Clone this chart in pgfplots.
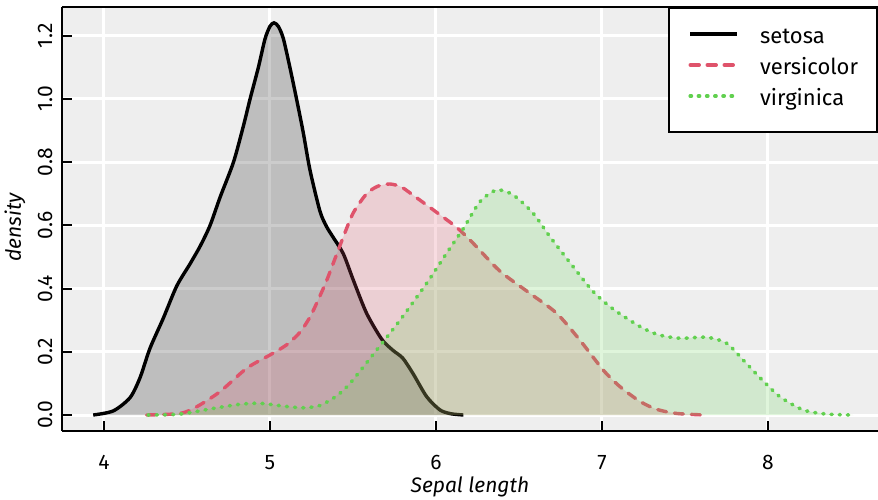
\documentclass[border=0pt]{standalone}
\usepackage{fontspec}
\setmainfont{Fira Sans}
\usepackage{pgfplots}
\pgfplotsset{compat=1.18}
\definecolor{panel}{HTML}{EEEEEE}
\definecolor{vers}{HTML}{DF536B}
\definecolor{virg}{HTML}{61D04F}
\pgfplotstableread{
x y
3.935 0
4.056 0.013
4.157 0.055
4.217 0.118
4.277 0.211
4.357 0.306
4.438 0.408
4.518 0.478
4.580 0.535
4.639 0.600
4.700 0.690
4.780 0.800
4.840 0.915
4.880 1.000
4.930 1.100
4.970 1.190
5.000 1.230
5.024 1.241
5.050 1.230
5.080 1.192
5.120 1.100
5.160 1.000
5.200 0.895
5.241 0.775
5.301 0.645
5.341 0.596
5.381 0.562
5.442 0.510
5.502 0.427
5.582 0.322
5.673 0.240
5.740 0.205
5.800 0.180
5.863 0.130
5.944 0.058
6.024 0.016
6.090 0.004
6.165 0
}\setosa
\pgfplotstableread{
x y
4.257 0
4.458 0.005
4.558 0.026
4.699 0.074
4.860 0.148
5.000 0.190
5.100 0.222
5.181 0.262
5.241 0.310
5.291 0.365
5.341 0.425
5.381 0.480
5.442 0.564
5.502 0.640
5.582 0.700
5.650 0.724
5.723 0.731
5.790 0.722
5.843 0.703
5.984 0.649
6.124 0.594
6.225 0.543
6.386 0.455
6.566 0.385
6.727 0.322
6.867 0.237
7.008 0.142
7.108 0.090
7.229 0.043
7.330 0.018
7.450 0.005
7.620 0
}\versicolor
\pgfplotstableread{
x y
4.265 0
4.458 0.003
4.659 0.021
4.819 0.034
4.940 0.037
5.100 0.027
5.200 0.023
5.300 0.030
5.400 0.060
5.482 0.100
5.643 0.206
5.783 0.300
5.944 0.417
6.064 0.512
6.165 0.590
6.265 0.675
6.366 0.712
6.466 0.696
6.586 0.638
6.687 0.564
6.827 0.469
6.948 0.390
7.068 0.335
7.229 0.280
7.340 0.254
7.470 0.243
7.631 0.246
7.751 0.227
7.851 0.174
7.952 0.118
8.072 0.058
8.213 0.016
8.353 0.003
8.514 0
}\virginica
\begin{document}
\begin{tikzpicture}[font=\fontsize{21}{25}\selectfont]
\begin{axis}[
  name=ax,
  scale only axis,
  width=816pt, height=424pt,
  xmin=3.747, xmax=8.663,
  ymin=-0.0506, ymax=1.2911,
  axis background/.style={fill=panel},
  axis x line*=box, axis y line*=left,
  axis line style={line width=2.6pt, black},
  tick pos=left,
  tick align=inside,
  major tick length=10pt,
  every tick/.style={black, line width=2pt},
  xtick={4,5,6,7,8},
  ytick={0,0.2,0.4,0.6,0.8,1.0,1.2},
  grid=major,
  major grid style={white, line width=3pt},
  /pgf/number format/assume math mode=true,
  yticklabel style={/pgf/number format/fixed, /pgf/number format/fixed zerofill, /pgf/number format/precision=1},
  yticklabel style={rotate=90, anchor=south, inner sep=0pt},
  xticklabel style={anchor=north, inner sep=0pt},
  xticklabel shift=23.8pt,
  yticklabel shift=9.3pt,
  xlabel={\itshape Sepal length},
  ylabel={\itshape density},
  xlabel style={at={(axis description cs:0.5,-0.132)}, anchor=center},
  ylabel style={at={(axis description cs:-0.0576,0.48)}, anchor=center},
  legend style={at={(axis description cs:1,1)}, anchor=north east,
    draw=black, line width=2pt, fill=white,
    inner xsep=19pt, inner ysep=22pt, row sep=13pt,
    font=\fontsize{22}{26}\selectfont,
    nodes={inner sep=0pt, text height=14pt, text depth=4pt},
    /tikz/every odd column/.append style={column sep=21pt}},
  legend cell align=left,
  legend image code/.code={\draw[#1] (0pt,5pt) -- (47pt,5pt);},
]
% setosa
\addplot[fill=black, fill opacity=0.2, draw=none, smooth, tension=0.45, forget plot] table {\setosa} \closedcycle;
\addplot[black, line width=3.4pt, smooth, tension=0.45] table {\setosa};
\addlegendentry{setosa}
% versicolor
\addplot[fill=vers, fill opacity=0.2, draw=none, smooth, tension=0.45, forget plot] table {\versicolor} \closedcycle;
\addplot[vers, line width=3.4pt, line cap=round, dash pattern=on 9pt off 8pt, smooth, tension=0.45] table {\versicolor};
\addlegendentry{versicolor}
% virginica
\addplot[fill=virg, fill opacity=0.2, draw=none, smooth, tension=0.45, forget plot] table {\virginica} \closedcycle;
\addplot[virg, line width=3.6pt, line cap=round, dash pattern=on 1.2pt off 7pt, smooth, tension=0.45] table {\virginica};
\addlegendentry{virginica}
\end{axis}
\pgfresetboundingbox
\path[use as bounding box] (ax.south west) ++(-62pt,-69pt) rectangle ++(878pt,500pt);
\end{tikzpicture}
\end{document}
